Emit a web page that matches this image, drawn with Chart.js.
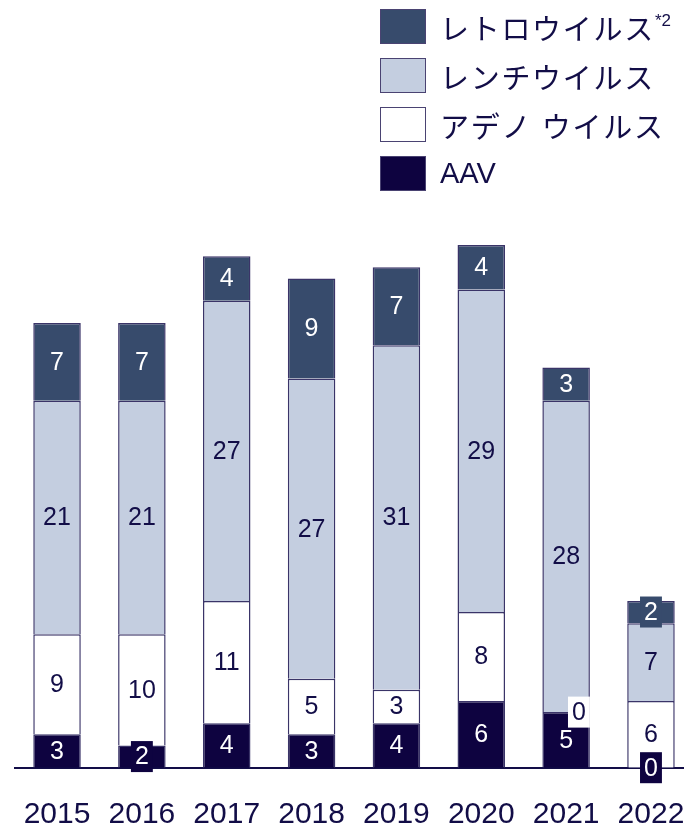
<!DOCTYPE html>
<html lang="ja">
<head>
<meta charset="utf-8">
<title>ベクター別 件数</title>
<script src="https://cdn.jsdelivr.net/npm/chart.js@4.4.1/dist/chart.umd.min.js"></script>
<style>
  html, body { margin: 0; padding: 0; overflow: hidden; background: #fff; }
  #wrap { position: relative; width: 684px; height: 829px; overflow: hidden; }
  #box { position: absolute; left: 0; top: 0; width: 700px; height: 829px; }
  #legend {
    position: absolute; left: 380px; top: 9px; margin: 0; padding: 0; list-style: none;
    font-family: "Liberation Sans", "Noto Sans CJK JP", sans-serif; font-size: 29px; color: #120d47;
  }
  #legend li { display: flex; align-items: center; height: 35px; margin-bottom: 14px; white-space: nowrap; }
  #legend li.ja { letter-spacing: 1.7px; }
  #legend .swatch { width: 44px; height: 33px; border: 1px solid #4a4372; margin-right: 14px; }
  #legend sup { font-size: 17px; position: relative; top: -6px; vertical-align: top; letter-spacing: 0; }
</style>
</head>
<body>
<div id="wrap">
  <div id="box"><canvas id="vectorChart"></canvas></div>
  <ul id="legend"></ul>
</div>
<script>
// === 年別・ベクター種類別 件数 ===

const years = ['2015', '2016', '2017', '2018', '2019', '2020', '2021', '2022'];
const aav = [3, 2, 4, 3, 4, 6, 5, 0];
const adeno = [9, 10, 11, 5, 3, 8, 0, 6];
const lenti = [21, 21, 27, 27, 31, 29, 28, 7];
const retro = [7, 7, 4, 9, 7, 4, 3, 2];

const NAVY = '#120d47';
const FONT = '"Liberation Sans", Arial, sans-serif';

// numbers inside each segment; tiny segments get a small filled box
const valueLabels = {
  id: 'valueLabels',
  afterDatasetsDraw(chart) {
    const { ctx } = chart;
    const zeroY = chart.scales.y.getPixelForValue(0);
    ctx.save();
    ctx.font = '25px ' + FONT;
    ctx.textAlign = 'center';
    ctx.textBaseline = 'middle';
    chart.data.datasets.forEach((ds, i) => {
      chart.getDatasetMeta(i).data.forEach((bar, j) => {
        const v = ds.data[j];
        const { x, y, base, width } = bar.getProps(['x', 'y', 'base', 'width'], true);
        const txt = String(v);
        let cx = x;
        const cy = (y + base) / 2;
        if (v <= 2) {
          const w = ctx.measureText(txt).width + 8, h = 31;
          // a zero sitting on another segment moves to the bar's right edge
          if (v === 0 && base < zeroY - 1) cx = x + width / 2 - w / 2;
          ctx.fillStyle = ds.backgroundColor;
          ctx.fillRect(cx - w / 2, cy - h / 2, w, h);
        }
        ctx.fillStyle = ds.labelColor;
        ctx.fillText(txt, cx, cy + 1);
      });
    });
    ctx.restore();
  }
};

// year labels under the axis, placed on the category scale
const yearLabels = {
  id: 'yearLabels',
  afterDraw(chart) {
    const { ctx } = chart;
    const x = chart.scales.x;
    ctx.save();
    ctx.font = '30px ' + FONT;
    ctx.fillStyle = NAVY;
    ctx.textAlign = 'center';
    ctx.textBaseline = 'middle';
    chart.data.labels.forEach((lab, i) => {
      ctx.fillText(lab, x.getPixelForTick(i), chart.chartArea.bottom + 47);
    });
    ctx.restore();
  }
};

const chart = new Chart(document.getElementById('vectorChart'), {
  type: 'bar',
  data: {
    labels: years,
    datasets: [
      { label: 'AAV', data: aav, backgroundColor: '#0e0340', labelColor: '#ffffff' },
      { label: 'アデノ ウイルス', data: adeno, backgroundColor: '#ffffff', labelColor: NAVY },
      { label: 'レンチウイルス', data: lenti, backgroundColor: '#c4cee0', labelColor: NAVY },
      { label: 'レトロウイルス', note: '*2', data: retro, backgroundColor: '#374b6c', labelColor: '#ffffff' }
    ].map(ds => Object.assign(ds, {
      borderColor: '#3a3468',
      borderWidth: 1.5,
      barPercentage: 0.56,
      categoryPercentage: 1
    }))
  },
  options: {
    responsive: true,
    maintainAspectRatio: false,
    animation: false,
    layout: { padding: { left: 14.6, right: 6.6, top: 211.7, bottom: 61.3 } },
    plugins: {
      legend: { display: false },
      tooltip: { enabled: false }
    },
    scales: {
      x: {
        stacked: true,
        grid: { display: false, drawTicks: false },
        border: { display: true, color: NAVY, width: 2 },
        ticks: { display: false }
      },
      y: {
        stacked: true,
        display: false,
        min: 0,
        max: 50
      }
    }
  },
  plugins: [valueLabels, yearLabels]
});

// legend, top item first
const legend = document.getElementById('legend');
chart.data.datasets.slice().reverse().forEach(ds => {
  const li = document.createElement('li');
  if (/[^\x00-\x7f]/.test(ds.label)) li.className = 'ja';
  const sw = document.createElement('span');
  sw.className = 'swatch';
  sw.style.background = ds.backgroundColor;
  li.appendChild(sw);
  li.appendChild(document.createTextNode(ds.label));
  if (ds.note) {
    const sup = document.createElement('sup');
    sup.textContent = ds.note;
    li.appendChild(sup);
  }
  legend.appendChild(li);
});
</script>
</body>
</html>
